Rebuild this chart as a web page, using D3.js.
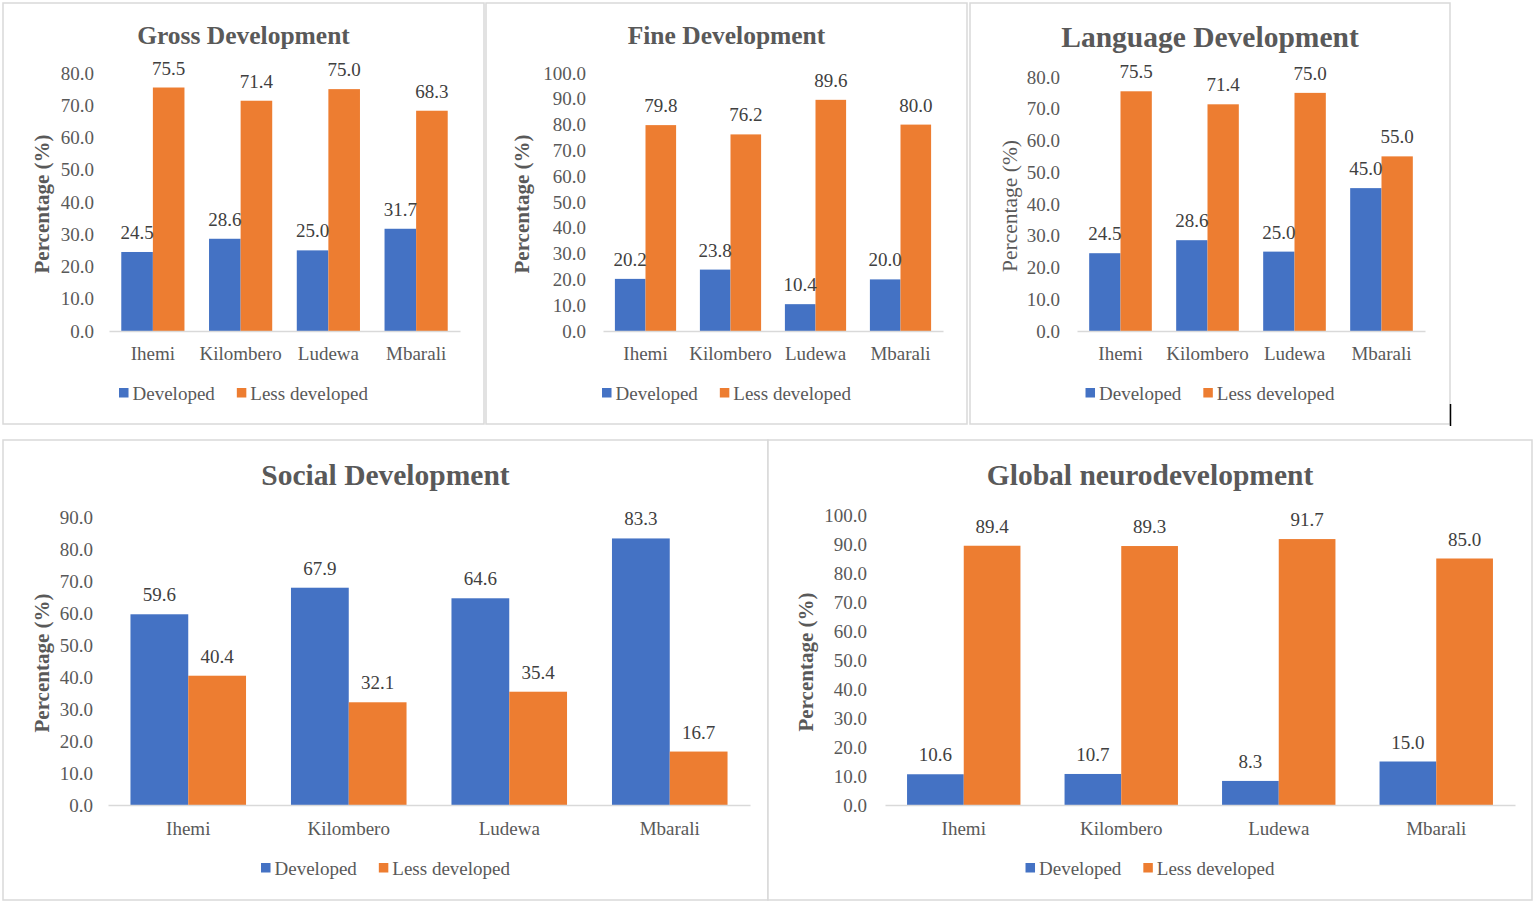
<!DOCTYPE html>
<html>
<head>
<meta charset="utf-8">
<script src="https://cdn.jsdelivr.net/npm/d3@7"></script>
<style>
  html, body { margin: 0; padding: 0; background: #fff; }
  svg { display: block; font-family: "Liberation Serif", "Times New Roman", serif; }
</style>
</head>
<body>
<div id="chart"></div>
<script>
// categories and series
const categories = ["Ihemi", "Kilombero", "Ludewa", "Mbarali"];
const seriesNames = ["Developed", "Less developed"];

// values (percent)
const grossDeveloped = [24.5, 28.6, 25.0, 31.7];
const grossLess = [75.5, 71.4, 75.0, 68.3];
const fineDeveloped = [20.2, 23.8, 10.4, 20.0];
const fineLess = [79.8, 76.2, 89.6, 80.0];
const languageDeveloped = [24.5, 28.6, 25.0, 45.0];
const languageLess = [75.5, 71.4, 75.0, 55.0];
const socialDeveloped = [59.6, 67.9, 64.6, 83.3];
const socialLess = [40.4, 32.1, 35.4, 16.7];
const globalDeveloped = [10.6, 10.7, 8.3, 15.0];
const globalLess = [89.4, 89.3, 91.7, 85.0];

// y axis maxima per chart
const yMaxima = [80, 100, 80, 90, 100];

const colors = { "Developed": "#4472C4", "Less developed": "#ED7D31" };
const textColor = "#595959";

// layout of each chart on the page
const panels = [
    { title: "Gross Development", dev: grossDeveloped, less: grossLess, yMax: yMaxima[0],
      box: [3, 3, 484, 424], left: 109, right: 460, top: 73, bottom: 331,
      titleY: 35, titleSize: 25.5, axisTitleX: 42, axisBold: true, tickRight: 94,
      catY: 353, legendY: 393 },
    { title: "Fine Development", dev: fineDeveloped, less: fineLess, yMax: yMaxima[1],
      box: [486, 3, 967, 424], left: 603, right: 943, top: 73, bottom: 331,
      titleY: 35, titleSize: 25.5, axisTitleX: 522, axisBold: true, tickRight: 586,
      catY: 353, legendY: 393 },
    { title: "Language Development", dev: languageDeveloped, less: languageLess, yMax: yMaxima[2],
      box: [970, 3, 1450, 424], left: 1077, right: 1425, top: 77, bottom: 331,
      titleY: 37, titleSize: 29.5, axisTitleX: 1010, axisBold: false, tickRight: 1060,
      catY: 353, legendY: 393 },
    { title: "Social Development", dev: socialDeveloped, less: socialLess, yMax: yMaxima[3],
      box: [3, 440, 768, 900], left: 108, right: 750, top: 517, bottom: 805,
      titleY: 475, titleSize: 29.5, axisTitleX: 42, axisBold: true, tickRight: 93,
      catY: 828, legendY: 868 },
    { title: "Global neurodevelopment", dev: globalDeveloped, less: globalLess, yMax: yMaxima[4],
      box: [768, 440, 1532, 900], left: 885, right: 1515, top: 515, bottom: 805,
      titleY: 475, titleSize: 29.5, axisTitleX: 806, axisBold: true, tickRight: 867,
      catY: 828, legendY: 868 }
];

const svg = d3.select("#chart")
    .append("svg")
    .attr("width", 1535)
    .attr("height", 903);

/**
 * Draw one clustered bar chart inside its frame
 */
function drawPanel(p) {
    const g = svg.append("g");
    const [bx0, by0, bx1, by1] = p.box;

    g.append("rect")
        .attr("x", bx0).attr("y", by0)
        .attr("width", bx1 - bx0).attr("height", by1 - by0)
        .attr("fill", "#fff")
        .attr("stroke", "#d9d9d9")
        .attr("stroke-width", 1.5);

    const x0 = d3.scaleBand()
        .domain(categories)
        .range([p.left, p.right])
        .paddingInner(0.28)
        .paddingOuter(0.14);

    const x1 = d3.scaleBand()
        .domain(seriesNames)
        .range([0, x0.bandwidth()]);

    const y = d3.scaleLinear()
        .domain([0, p.yMax])
        .range([p.bottom, p.top]);

    // title
    g.append("text")
        .attr("x", (bx0 + bx1) / 2)
        .attr("y", p.titleY)
        .attr("text-anchor", "middle")
        .attr("dominant-baseline", "central")
        .attr("font-size", p.titleSize)
        .attr("font-weight", "bold")
        .attr("fill", textColor)
        .text(p.title);

    // y axis ticks
    const yAxis = g.append("g")
        .attr("transform", `translate(${p.left},0)`)
        .call(d3.axisLeft(y)
            .tickValues(d3.range(0, p.yMax + 1, 10))
            .tickFormat(d3.format(".1f"))
            .tickSize(0)
            .tickPadding(p.left - p.tickRight))
        .attr("font-family", null)
        .attr("font-size", null);
    yAxis.select(".domain").remove();
    yAxis.selectAll("text")
        .attr("font-size", 19)
        .attr("fill", textColor);

    // y axis title
    g.append("text")
        .attr("transform", `translate(${p.axisTitleX},${(p.top + p.bottom) / 2 + 2}) rotate(-90)`)
        .attr("text-anchor", "middle")
        .attr("dominant-baseline", "central")
        .attr("font-size", p.axisBold ? 21 : 21.5)
        .attr("font-weight", p.axisBold ? "bold" : "normal")
        .attr("fill", textColor)
        .text("Percentage (%)");

    // bars
    const rows = categories.map((c, i) => ({
        category: c,
        values: [
            { series: seriesNames[0], value: p.dev[i] },
            { series: seriesNames[1], value: p.less[i] }
        ]
    }));

    const groups = g.selectAll(".cat")
        .data(rows)
        .enter()
        .append("g")
        .attr("transform", (d) => `translate(${x0(d.category)},0)`);

    groups.selectAll("rect")
        .data((d) => d.values)
        .enter()
        .append("rect")
        .attr("x", (d) => x1(d.series))
        .attr("y", (d) => y(d.value))
        .attr("width", x1.bandwidth())
        .attr("height", (d) => y(0) - y(d.value))
        .attr("fill", (d) => colors[d.series]);

    groups.selectAll(".lbl")
        .data((d) => d.values)
        .enter()
        .append("text")
        .attr("x", (d) => x1(d.series) + x1.bandwidth() / 2)
        .attr("y", (d) => y(d.value) - 13)
        .attr("text-anchor", "middle")
        .attr("font-size", 19)
        .attr("fill", "#404040")
        .text((d) => d3.format(".1f")(d.value));

    // x axis
    const xAxis = g.append("g")
        .attr("transform", `translate(0,${y(0)})`)
        .call(d3.axisBottom(x0).tickSize(0).tickSizeOuter(0))
        .attr("font-family", null)
        .attr("font-size", null);
    xAxis.select(".domain")
        .attr("stroke", "#d9d9d9")
        .attr("stroke-width", 1.5);
    xAxis.selectAll("text")
        .attr("font-size", 19)
        .attr("fill", textColor)
        .attr("y", p.catY - y(0))
        .attr("dy", "0.35em");

    // legend
    const legend = g.append("g");
    let lx = 0;
    seriesNames.forEach((s) => {
        const item = legend.append("g").attr("transform", `translate(${lx},0)`);
        item.append("rect")
            .attr("x", 0).attr("y", -5)
            .attr("width", 9.5).attr("height", 9.5)
            .attr("fill", colors[s]);
        const t = item.append("text")
            .attr("x", 13.5)
            .attr("y", 0)
            .attr("dominant-baseline", "central")
            .attr("font-size", 19)
            .attr("fill", textColor)
            .text(s);
        lx += 13.5 + t.node().getComputedTextLength() + 22;
    });
    const lw = lx - 22;
    legend.attr("transform", `translate(${(bx0 + bx1) / 2 - lw / 2},${p.legendY})`);
}

panels.forEach(drawPanel);

// stray caret mark at the edge of the third frame
svg.append("line")
    .attr("x1", 1450.5).attr("x2", 1450.5)
    .attr("y1", 404).attr("y2", 426)
    .attr("stroke", "#000")
    .attr("stroke-width", 1.5);
</script>
</body>
</html>
